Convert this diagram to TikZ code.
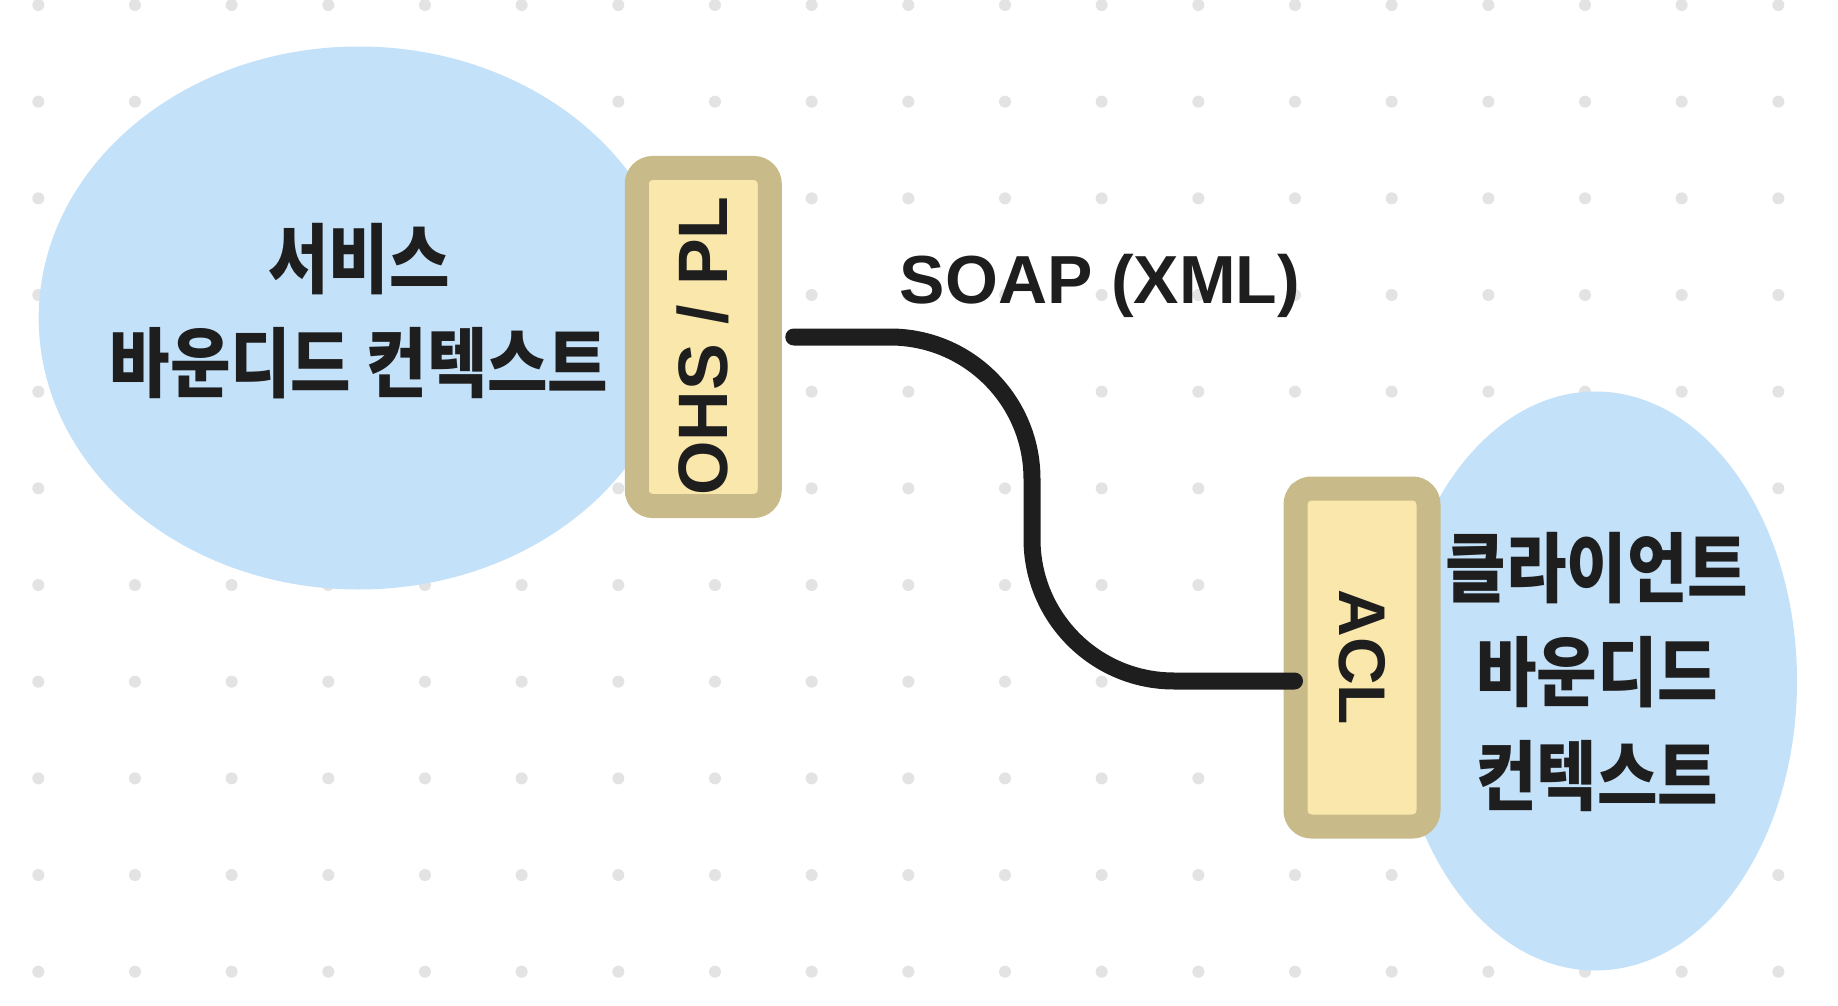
\documentclass[tikz,border=0pt]{standalone}
\usepackage{fontspec}
\usepackage{graphicx}
\newfontfamily\latf{Liberation Sans}
\newfontfamily\krf{Noto Sans CJK KR}
\definecolor{dotc}{HTML}{E3E3E3}
\definecolor{ctxblue}{HTML}{C4E1FA}
\definecolor{boxfill}{HTML}{F9E7AB}
\definecolor{boxline}{HTML}{C9BA89}
\definecolor{ink}{HTML}{1E1E1E}
\tikzset{
  ctxtext/.style={text=ink, align=center, font=\krf\bfseries\fontsize{38}{52}\selectfont},
  layerbox/.style={draw=boxline, fill=boxfill, line width=12pt, rounded corners=8pt,
    minimum width=66.5pt, minimum height=169pt, inner sep=0pt, text=ink,
    font=\latf\bfseries\fontsize{33}{40}\selectfont},
  conn/.style={draw=ink, line width=8.5pt, line cap=round, rounded corners=71pt},
  lbl/.style={text=ink, font=\latf\bfseries\fontsize{34}{40}\selectfont, inner sep=0pt}
}
\newcommand{\hs}[1]{\scalebox{0.865}[1]{#1}}
\begin{document}
\begin{tikzpicture}[x=0.5pt, y=-0.5pt]
\useasboundingbox (0,0) rectangle (1838,1006);
\fill[white] (0,0) rectangle (1838,1006);
% dot grid
\foreach \i in {0,...,18}{
  \foreach \j in {0,...,10}{
    \fill[dotc] (38.3+96.67*\i, 5+96.67*\j) circle (3pt);
  }
}
% bounded contexts
\fill[ctxblue] (358.7,318) ellipse [x radius=320, y radius=271.5];
\fill[ctxblue] (1595.4,681) ellipse [x radius=201.6, y radius=289.5];
\node[ctxtext] (svc) at (359,311) {\hs{서비스}\\\hs{바운디드 컨텍스트}};
\node[ctxtext] (cli) at (1597,672) {\hs{클라이언트}\\\hs{바운디드}\\\hs{컨텍스트}};
% layer boxes
\node[layerbox] (ohs) at (703.25,337) {\rotatebox{90}{\fontsize{35}{40}\selectfont OHS / PL\hspace*{9pt}}};
\node[layerbox] (acl) at (1362,657.5) {\rotatebox{-90}{ACL}};
% connector
\coordinate (mx) at (1032,0);
\coordinate (cs) at ([xshift=6pt]ohs.east);
\coordinate (ce) at ([xshift=5.5pt,yshift=-11.75pt]acl.west);
\draw[conn] (cs) -- (cs -| mx) -- (ce -| mx) -- (ce);
\node[lbl] (soap) at (1100,286) {SOAP (XML)};
\end{tikzpicture}
\end{document}
